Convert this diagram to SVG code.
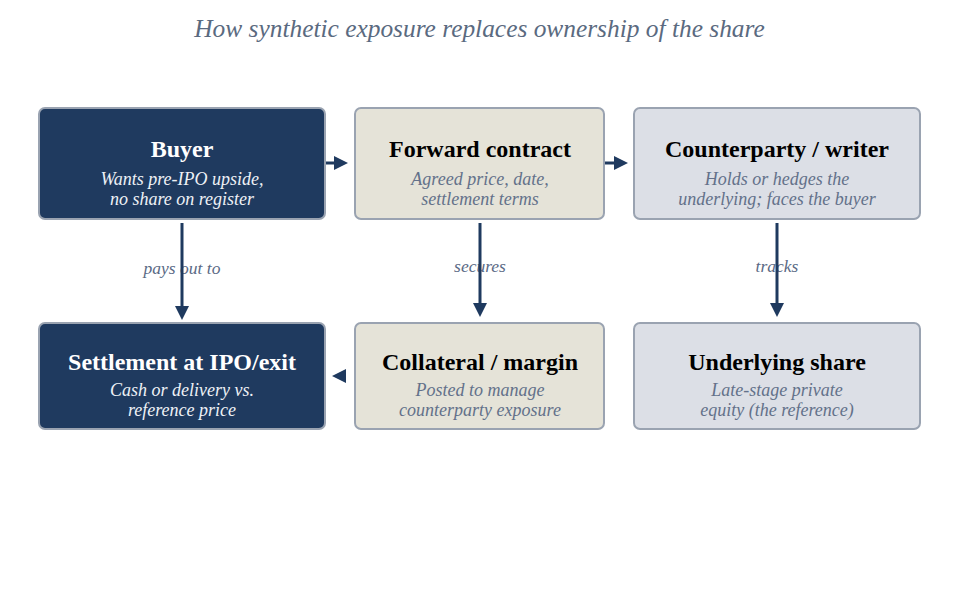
<svg xmlns="http://www.w3.org/2000/svg" width="959" height="595" viewBox="0 0 959 595">
<defs>
<style>
.box{stroke:#9aa3b1;stroke-width:2}
.dark{fill:#1f3a5f}
.beige{fill:#e5e3d8}
.grey{fill:#dcdfe6}
.t{font-family:"Liberation Serif",serif;font-weight:bold;font-size:24px;text-anchor:middle}
.s{font-family:"Liberation Serif",serif;font-style:italic;font-size:18px;text-anchor:middle}
.tw{fill:#ffffff}
.tb{fill:#000000}
.sw{fill:#eef1f6}
.sg{fill:#63718a}
.lbl{font-family:"Liberation Serif",serif;font-style:italic;font-size:17.5px;text-anchor:middle;fill:#5a6a85}
.c{stroke:#1f3a5f;stroke-width:3;fill:none}
</style>
</defs>
<rect width="959" height="595" fill="#ffffff"/>
<text x="479.5" y="37" font-family="Liberation Serif, serif" font-style="italic" font-size="25.4" fill="#5a6a80" text-anchor="middle">How synthetic exposure replaces ownership of the share</text>

<g id="connectors">
<text class="lbl" x="182" y="274">pays out to</text>
<text class="lbl" x="480" y="272">secures</text>
<text class="lbl" x="777" y="272">tracks</text>
<line class="c" x1="325" y1="163" x2="334" y2="163"/>
<path d="M334,156 L348,163 L334,170 z" fill="#1f3a5f"/>
<line class="c" x1="604" y1="163" x2="614" y2="163"/>
<path d="M614,156 L628,163 L614,170 z" fill="#1f3a5f"/>
<line class="c" x1="182" y1="223" x2="182" y2="306"/>
<path d="M175,306 L182,320 L189,306 z" fill="#1f3a5f"/>
<line class="c" x1="480" y1="223" x2="480" y2="303"/>
<path d="M473,303 L480,317 L487,303 z" fill="#1f3a5f"/>
<line class="c" x1="777" y1="223" x2="777" y2="303"/>
<path d="M770,303 L777,317 L784,303 z" fill="#1f3a5f"/>
<path d="M346,369 L332,376 L346,383 z" fill="#1f3a5f"/>
</g>

<g id="buyer">
<rect class="box dark" x="39" y="108" width="286" height="111" rx="6"/>
<text class="t tw" x="182" y="157">Buyer</text>
<text class="s sw" x="182" y="185">Wants pre-IPO upside,</text>
<text class="s sw" x="182" y="205">no share on register</text>
</g>
<g id="forward">
<rect class="box beige" x="355" y="108" width="249" height="111" rx="6"/>
<text class="t tb" x="480" y="157">Forward contract</text>
<text class="s sg" x="480" y="185">Agreed price, date,</text>
<text class="s sg" x="480" y="205">settlement terms</text>
</g>
<g id="counterparty">
<rect class="box grey" x="634" y="108" width="286" height="111" rx="6"/>
<text class="t tb" x="777" y="157">Counterparty / writer</text>
<text class="s sg" x="777" y="185">Holds or hedges the</text>
<text class="s sg" x="777" y="205">underlying; faces the buyer</text>
</g>
<g id="settlement">
<rect class="box dark" x="39" y="323" width="286" height="106" rx="6"/>
<text class="t tw" x="182" y="370">Settlement at IPO/exit</text>
<text class="s sw" x="182" y="396">Cash or delivery vs.</text>
<text class="s sw" x="182" y="416">reference price</text>
</g>
<g id="collateral">
<rect class="box beige" x="355" y="323" width="249" height="106" rx="6"/>
<text class="t tb" x="480" y="370">Collateral / margin</text>
<text class="s sg" x="480" y="396">Posted to manage</text>
<text class="s sg" x="480" y="416">counterparty exposure</text>
</g>
<g id="underlying">
<rect class="box grey" x="634" y="323" width="286" height="106" rx="6"/>
<text class="t tb" x="777" y="370">Underlying share</text>
<text class="s sg" x="777" y="396">Late-stage private</text>
<text class="s sg" x="777" y="416">equity (the reference)</text>
</g>
</svg>
